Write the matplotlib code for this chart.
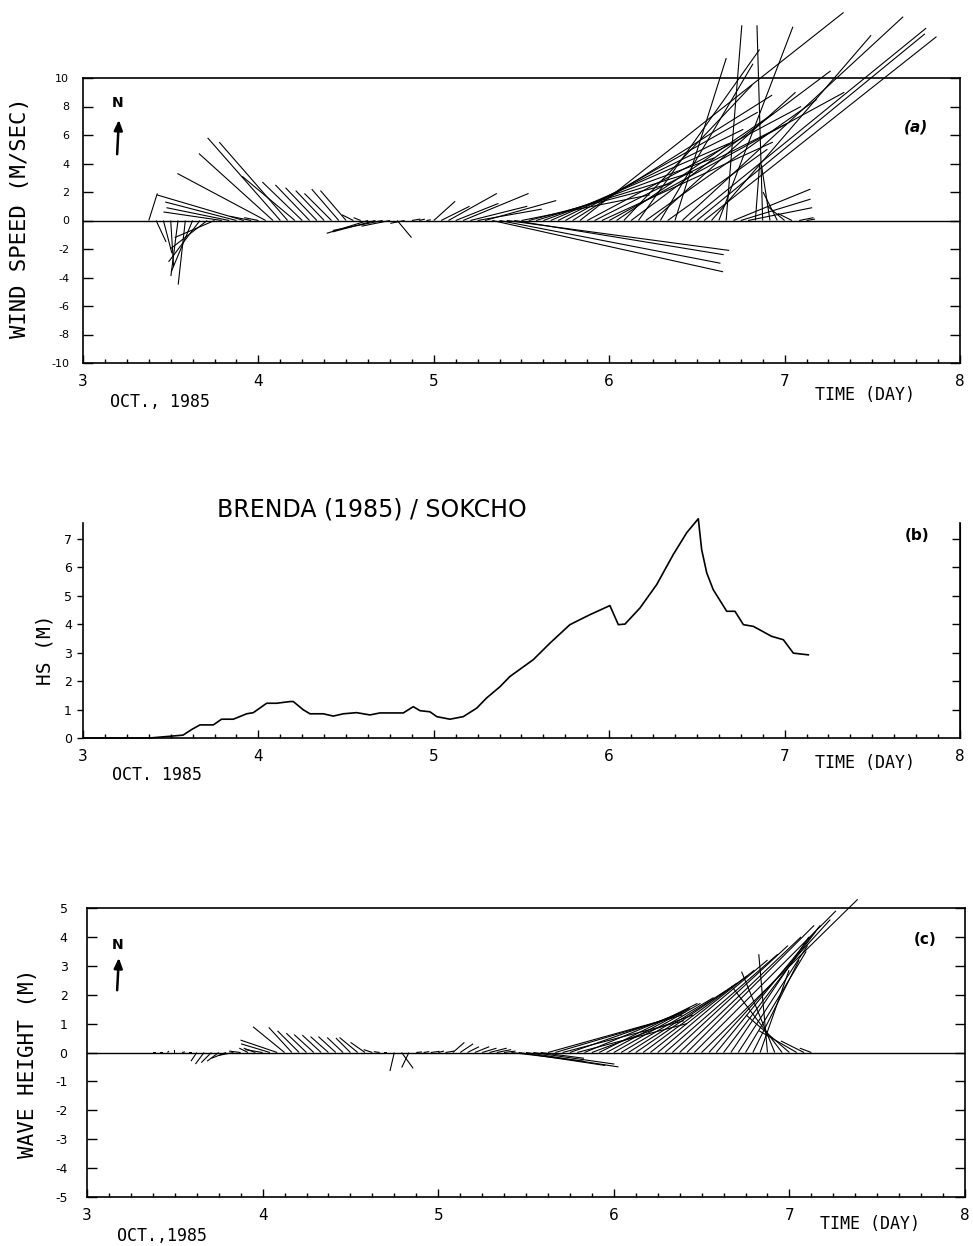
from matplotlib import pyplot as plt
import numpy as np

plt.rcParams['axes.unicode_minus'] = False

# ---- data ----
# hours after 00:00, 3 Oct 1985 (hourly samples)
wind_hour = list(range(9, 100))
wind_u = [0.6, 0.7, 0.6, 0.2, -0.5, -0.5, -1.5, -2.2, -2.6, -2.8,
          -4.1, -4.4, -5.0, -6.1, -1.5, -1.0, -6.2, -5.2, -5.1, -4.8,
          -3.7, -2.8, -2.4, -2.2, -2.0, -1.9, -1.9, -1.8, -0.8, -0.5,
          -2.9, -3.0, -3.5, -2.0, 1.0, -1.0, 0.6, 0.4, 0.3, 1.5,
          2.0, 3.4, 3.0, 4.6, 4.0, 4.5, 5.0, 16.2, 15.5, 15.6,
          14.7, 9.0, 10.0, 11.0, 12.0, 12.5, 13.0, 13.5, 14.0, 18.5,
          15.0, 13.5, 12.0, 16.5, 11.0, 9.0, 14.0, 8.5, 12.0, 10.0,
          6.5, 7.0, 3.6, 15.5, 16.6, 16.0, 16.3, 11.2, 5.2, 1.1,
          5.4, 4.9, 4.5, 0.3, -0.4, -0.6, -1.0, -1.2, -1.0, 1.0, 0.6]
wind_v = [1.9, -1.5, -2.3, -3.2, -3.9, -4.5, -3.6, -2.9, -2.0, -1.2,
          0.6, 0.9, 1.3, 1.8, 0.3, 0.2, 3.3, 4.7, 5.8, 5.5,
          3.1, 2.7, 2.5, 2.3, 2.1, 1.9, 2.2, 2.1, 0.4, 0.2,
          -0.9, -0.8, -0.7, -0.4, -1.2, -0.2, 0.1, 0.1, 0.05, 1.35,
          1.0, 1.9, 1.2, 1.9, 1.0, 0.8, 1.4, -3.6, -3.0, -2.1,
          -2.4, 1.8, 2.6, 3.4, 4.4, 5.4, 6.4, 7.6, 8.8, 14.6,
          8.0, 6.8, 5.5, 9.0, 7.5, 9.5, 10.5, 12.0, 8.5, 9.0,
          11.0, 5.0, 11.4, 14.3, 13.5, 13.1, 12.9, 13.0, 13.6, 13.7,
          2.2, 1.5, 0.9, 4.0, 13.7, 3.9, 2.0, 1.0, 0.5, 0.2, 0.1]

hs_day = [3.0, 3.38, 3.57, 3.62, 3.667, 3.743, 3.79, 3.857, 3.933, 3.971,
          4.047, 4.104, 4.18, 4.199, 4.256, 4.294, 4.37, 4.427, 4.484, 4.56,
          4.636, 4.693, 4.826, 4.883, 4.921, 4.978, 5.017, 5.092, 5.168, 5.245,
          5.30, 5.377, 5.434, 5.567, 5.662, 5.776, 5.89, 6.004, 6.052, 6.09,
          6.176, 6.271, 6.365, 6.442, 6.508, 6.527, 6.556, 6.593, 6.67, 6.717,
          6.765, 6.822, 6.926, 6.993, 7.05, 7.135]
hs_m = [0.0, 0.0, 0.1, 0.3, 0.46, 0.46, 0.66, 0.66, 0.85, 0.89,
        1.22, 1.22, 1.28, 1.28, 0.99, 0.85, 0.85, 0.77, 0.85, 0.89,
        0.81, 0.88, 0.88, 1.1, 0.96, 0.92, 0.75, 0.66, 0.75, 1.05,
        1.40, 1.80, 2.16, 2.75, 3.33, 3.98, 4.33, 4.65, 3.98, 4.0,
        4.57, 5.39, 6.44, 7.21, 7.7, 6.62, 5.8, 5.21, 4.45, 4.45,
        3.98, 3.92, 3.57, 3.45, 2.98, 2.92]

wave_hour = list(range(9, 100))
wave_u = [0.1, 0.1, 0.05, 0.0, 0.1, 0.1, -0.2, -0.3, -0.35, -0.4,
          -0.5, -0.5, -0.4, -0.3, -0.4, -0.6, -1.0, -1.27, -1.09, -0.8,
          -0.75, -0.7, -0.68, -0.65, -0.62, -0.6, -0.55, -0.5, -0.63, -0.5,
          -0.3, -0.2, -0.1, -0.15, 0.4, -0.25, 0.2, 0.2, 0.3, 0.2,
          0.3, 0.4, 0.45, 0.4, 0.5, 0.5, 0.6, 0.5, 0.4, 2.5,
          3.0, 3.2, 2.8, 1.5, 4.3, 4.4, 4.2, 4.0, 3.8, 3.6,
          3.5, 3.4, 2.9, 3.0, 3.2, 3.4, 3.5, 3.6, 3.6, 3.8,
          3.9, 4.0, 4.2, 4.4, 4.9, 5.4, 4.2, 3.6, 3.2, 2.7,
          2.4, 2.1, 1.6, 1.0, -0.3, -1.15, -1.75, -1.5, -1.3, -0.8, -0.4]
wave_v = [0.0, 0.0, 0.05, 0.08, 0.02, 0.0, -0.3, -0.4, -0.35, -0.3,
          -0.2, -0.1, 0.05, 0.15, 0.15, 0.1, 0.3, 0.43, 0.89, 0.87,
          0.75, 0.67, 0.62, 0.6, 0.55, 0.55, 0.52, 0.5, 0.52, 0.35,
          0.1, 0.03, 0.0, -0.64, -0.55, -0.52, 0.02, 0.03, 0.04, 0.05,
          0.05, 0.35, 0.3, 0.2, 0.2, 0.15, 0.15, 0.1, 0.05, -0.3,
          -0.45, -0.5, -0.4, -0.2, 1.2, 1.3, 1.1, 1.4, 1.0, 1.5,
          1.3, 1.7, 1.55, 1.7, 1.9, 2.15, 2.4, 2.65, 2.85, 3.2,
          3.4, 3.7, 4.0, 4.4, 4.9, 5.3, 4.6, 4.4, 4.2, 4.0,
          3.7, 3.5, 3.2, 2.85, 3.4, 2.8, 2.3, 1.3, 0.75, 0.4, 0.15]

day_ticks = [3, 4, 5, 6, 7, 8]

W, H = 973, 1246
MONO = 'DejaVu Sans Mono'


def fx(px):
    return px / W


def fy(py):
    return 1 - py / H


def stickPlot(ax, hours, u, v):
    t = 3 + np.array(hours) / 24.0
    q = ax.quiver(t, np.zeros(len(t)), u, v, angles='uv', scale_units='y', scale=1,
                  units='dots', width=1.1, headwidth=0, headlength=0,
                  headaxislength=0, minlength=0, pivot='tail', color='black')
    q.set_clip_on(False)
    ax.axhline(0, color='black', lw=1.0)


def dayAxis(ax):
    ax.set_xlim(3, 8)
    ax.set_xticks(day_ticks)
    ax.set_xticks(np.arange(3, 8.01, 0.125), minor=True)
    ax.tick_params(axis='x', which='major', direction='in', length=6, pad=8,
                   labelsize=11, width=1)
    ax.tick_params(axis='x', which='minor', direction='in', length=3, width=1)


def northArrow(ax, x, ytxt, y0, y1):
    fig.text(fx(x), fy(ytxt), 'N', ha='center', va='center', fontsize=10,
             fontweight='bold')
    fig.add_artist(plt.Annotation('', xy=(fx(x + 1), fy(y1)), xytext=(fx(x - 1), fy(y0)),
                                  xycoords='figure fraction', textcoords='figure fraction',
                                  arrowprops=dict(arrowstyle='-|>,head_length=0.6,head_width=0.25',
                                                  color='black', lw=1.8)))


fig = plt.figure(figsize=(9.73, 12.46), dpi=100)

# ---- (a) wind sticks ----
axA = fig.add_axes([fx(83), fy(363), fx(960 - 83), (363 - 78) / H])
axA.set_ylim(-10, 10)
dayAxis(axA)
axA.set_yticks(np.arange(-10, 11, 2))
axA.tick_params(axis='y', direction='in', length=7, pad=10, labelsize=8,
                right=True, width=1)
stickPlot(axA, wind_hour, wind_u, wind_v)
fig.text(fx(20), fy(218), 'WIND SPEED (M/SEC)', rotation=90, ha='center',
         va='center', fontsize=16, family=MONO)
fig.text(fx(110), fy(402), 'OCT., 1985', ha='left', va='center', fontsize=12,
         family=MONO)
fig.text(fx(815), fy(395), 'TIME (DAY)', ha='left', va='center', fontsize=12,
         family=MONO)
fig.text(fx(916), fy(127), '(a)', ha='center', va='center', fontsize=11,
         fontweight='bold', style='italic')
northArrow(axA, 118, 103, 157, 117)

# ---- (b) significant wave height ----
axB = fig.add_axes([fx(83), fy(738), fx(960 - 83), (738 - 523) / H])
axB.set_ylim(0, 7.55)
dayAxis(axB)
axB.plot(hs_day, hs_m, color='black', lw=1.2, clip_on=False)
axB.spines['top'].set_visible(False)
axB.set_yticks(range(0, 8))
axB.tick_params(axis='y', direction='out', length=4, pad=4, labelsize=9, width=1)
axR = axB.secondary_yaxis('right')
axR.set_yticks(range(1, 8))
axR.tick_params(axis='y', direction='in', length=6, labelright=False, width=1)
fig.text(fx(372), fy(509), 'BRENDA (1985) / SOKCHO', ha='center', va='center',
         fontsize=17)
fig.text(fx(45), fy(650), 'HS (M)', rotation=90, ha='center', va='center',
         fontsize=14, family=MONO)
fig.text(fx(112), fy(775), 'OCT. 1985', ha='left', va='center', fontsize=12,
         family=MONO)
fig.text(fx(815), fy(763), 'TIME (DAY)', ha='left', va='center', fontsize=12,
         family=MONO)
fig.text(fx(917), fy(535), '(b)', ha='center', va='center', fontsize=11,
         fontweight='bold')

# ---- (c) wave sticks ----
axC = fig.add_axes([fx(87), fy(1197), fx(965 - 87), (1197 - 908) / H])
axC.set_ylim(-5, 5)
dayAxis(axC)
axC.set_yticks(range(-5, 6))
axC.tick_params(axis='y', direction='in', length=7, pad=14, labelsize=9,
                right=True, width=1)
stickPlot(axC, wave_hour, wave_u, wave_v)
fig.text(fx(28), fy(1063), 'WAVE HEIGHT (M)', rotation=90, ha='center',
         va='center', fontsize=15, family=MONO)
fig.text(fx(117), fy(1236), 'OCT.,1985', ha='left', va='center', fontsize=12,
         family=MONO)
fig.text(fx(820), fy(1224), 'TIME (DAY)', ha='left', va='center', fontsize=12,
         family=MONO)
fig.text(fx(925), fy(940), '(c)', ha='center', va='center', fontsize=11,
         fontweight='bold')
northArrow(axC, 118, 945, 993, 955)

for ax in (axA, axB, axC):
    for s in ax.spines.values():
        s.set_linewidth(1.2)

fig.savefig('out.png', dpi=100)
